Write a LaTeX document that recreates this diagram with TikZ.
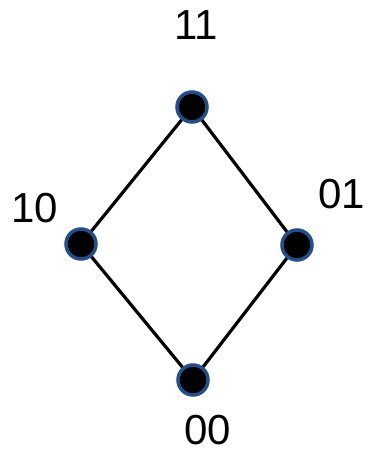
\documentclass[tikz,border=0pt]{standalone}
\usepackage{fontspec}
\setmainfont{Liberation Sans}
\definecolor{rimblue}{RGB}{36,78,138}
\begin{document}
\begin{tikzpicture}[x=1pt,y=-1pt,
  vert/.style={circle,fill=black,draw=rimblue,line width=3.5pt,minimum size=30pt,inner sep=0pt},
  lab/.style={font=\fontsize{42}{42}\selectfont,inner sep=0pt},
  edge/.style={line width=3.2pt,black}]
\useasboundingbox (0,0) rectangle (368,452);
\coordinate (ct) at (192,107);
\coordinate (cl) at (81,244);
\coordinate (cr) at (297,245);
\coordinate (cb) at (193,380);
\draw[edge] (ct) -- (cl) -- (cb) -- (cr) -- cycle;
\node[vert] (t) at (ct) {};
\node[vert] (l) at (cl) {};
\node[vert] (r) at (cr) {};
\node[vert] (b) at (cb) {};
\node[lab] (lt) at (196,25) {11};
\node[lab] (ll) at (35,208) {10};
\node[lab] (lr) at (342,194) {01};
\node[lab] (lb) at (208,430) {00};
\end{tikzpicture}
\end{document}
